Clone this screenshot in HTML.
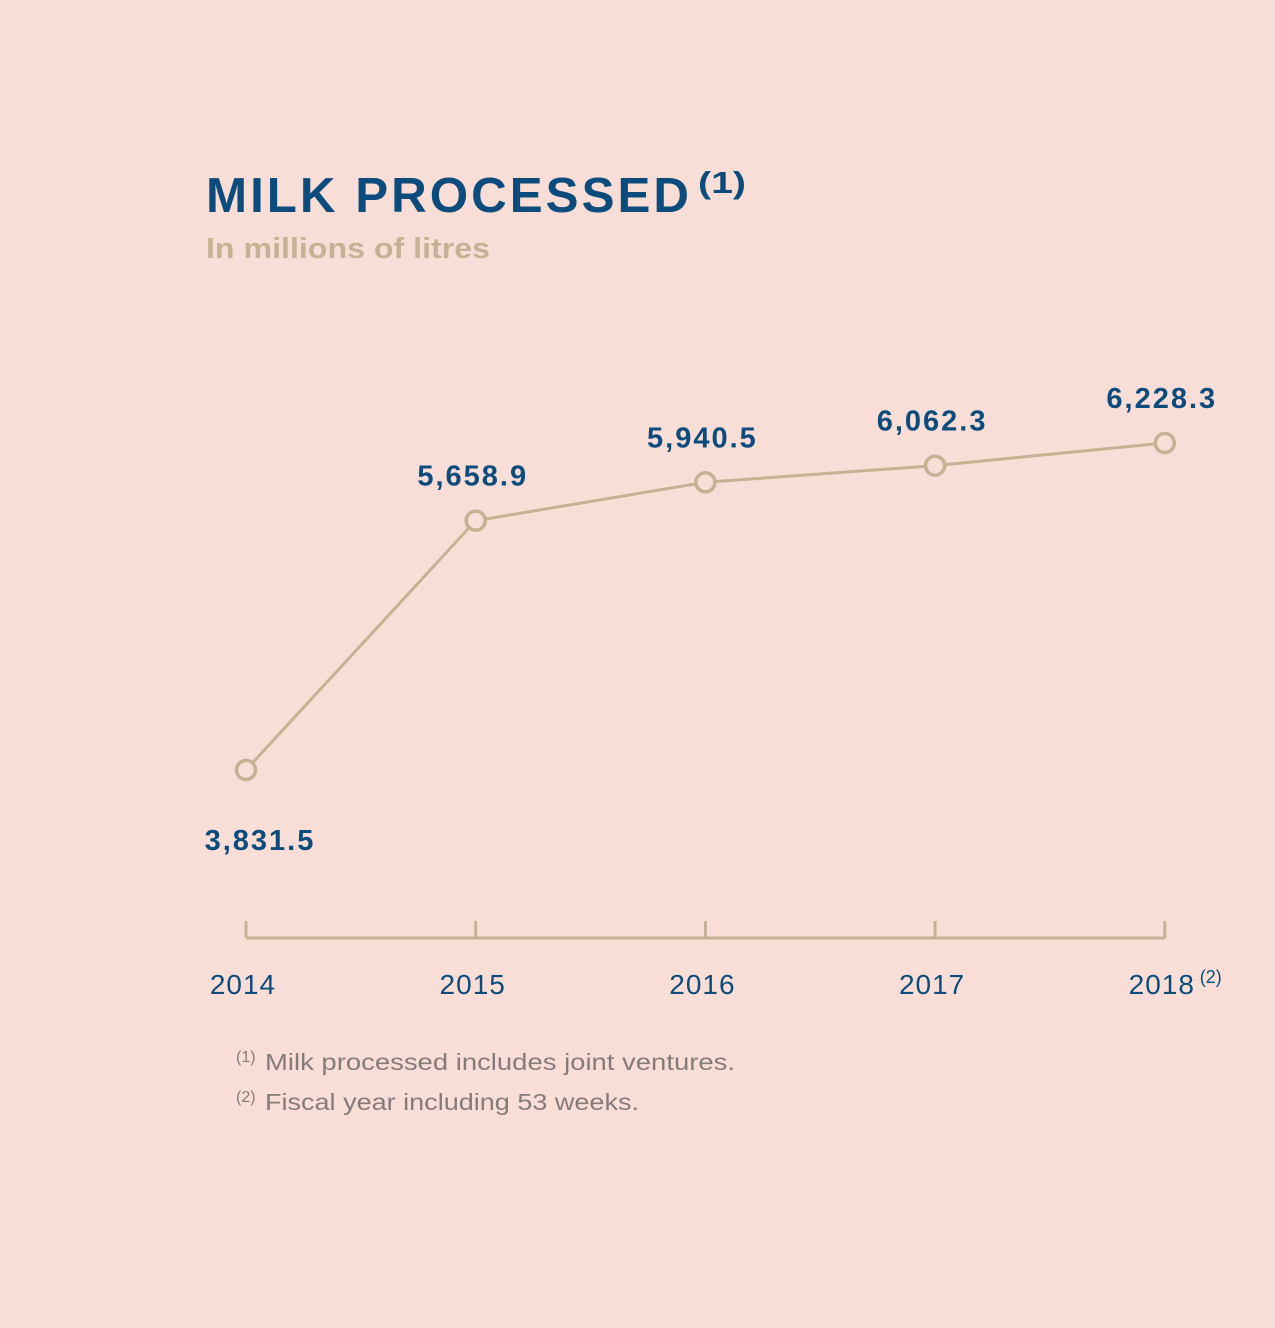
<!DOCTYPE html>
<html><head><meta charset="utf-8"><style>
html,body{margin:0;padding:0;background:#f9ded8;}
body{width:1275px;height:1328px;position:relative;overflow:hidden;font-family:"Liberation Sans",sans-serif;}
</style></head><body>
<svg width="1275" height="1328" style="position:absolute;left:0;top:0">
<text x="206" y="212" font-size="49" font-weight="bold" fill="#0c4c7c" letter-spacing="3" textLength="486" lengthAdjust="spacingAndGlyphs">MILK PROCESSED</text>
<text x="698" y="193" font-size="31" font-weight="bold" fill="#0c4c7c" textLength="48" lengthAdjust="spacingAndGlyphs">(1)</text>
<text x="206" y="258" font-size="29" font-weight="bold" fill="#c5b193" textLength="284" lengthAdjust="spacingAndGlyphs">In millions of litres</text>
<g id="axis"></g>
<g id="plot"></g>
<text x="236" y="1062" font-size="16" fill="#857b7b">(1)</text>
<text x="265" y="1070" font-size="23" fill="#857b7b" textLength="470" lengthAdjust="spacingAndGlyphs">Milk processed includes joint ventures.</text>
<text x="236" y="1102" font-size="16" fill="#857b7b">(2)</text>
<text x="265" y="1110" font-size="23" fill="#857b7b" textLength="374" lengthAdjust="spacingAndGlyphs">Fiscal year including 53 weeks.</text>
</svg>
<script>
const categories=["2014","2015","2016","2017","2018"];
const values=[3831.5,5658.9,5940.5,6062.3,6228.3];
const valueLabels=["3,831.5","5,658.9","5,940.5","6,062.3","6,228.3"];
const NS="http://www.w3.org/2000/svg";
function x(i){return 246+i*229.7;}
function y(v){return 443+(6228.3-v)*0.1364;}
function mk(tag,attrs,parent){const e=document.createElementNS(NS,tag);for(const k in attrs)e.setAttribute(k,attrs[k]);parent.appendChild(e);return e;}
const axis=document.getElementById('axis'),plot=document.getElementById('plot');
const base=mk('line',{x1:x(0),x2:x(categories.length-1),y1:938,y2:938,stroke:'#c5b193','stroke-width':3},axis);


categories.forEach((c,i)=>{
  const t=mk('line',{x1:x(i),x2:x(i),y1:921,y2:938,stroke:'#c5b193','stroke-width':3},axis);
  
  
  const l=mk('text',{x:x(i)-3,y:994,'font-size':28,fill:'#0c4c7c','text-anchor':'middle','letter-spacing':1},axis);
  l.textContent=c;
  
  
});
const sup=mk('text',{x:x(4)+35,y:983,'font-size':18,fill:'#0c4c7c'},axis);
sup.textContent='(2)';


const pts=values.map((v,i)=>x(i)+','+y(v)).join(' ');
const line=mk('polyline',{points:pts,fill:'none',stroke:'#c5b193','stroke-width':3},plot);


values.forEach((v,i)=>{
  const c=mk('circle',{cx:x(i),cy:y(v),r:9.5,fill:'#f9ded8',stroke:'#c5b193','stroke-width':3.5},plot);
  
  
  const below=i===0;
  const t=mk('text',{x:below?x(i)+14:x(i)-3,y:below?y(v)+80:y(v)-35,'font-size':29,'font-weight':'bold',fill:'#0c4c7c','text-anchor':'middle','letter-spacing':2},plot);
  t.textContent=valueLabels[i];
  
  
});
</script>
</body></html>
